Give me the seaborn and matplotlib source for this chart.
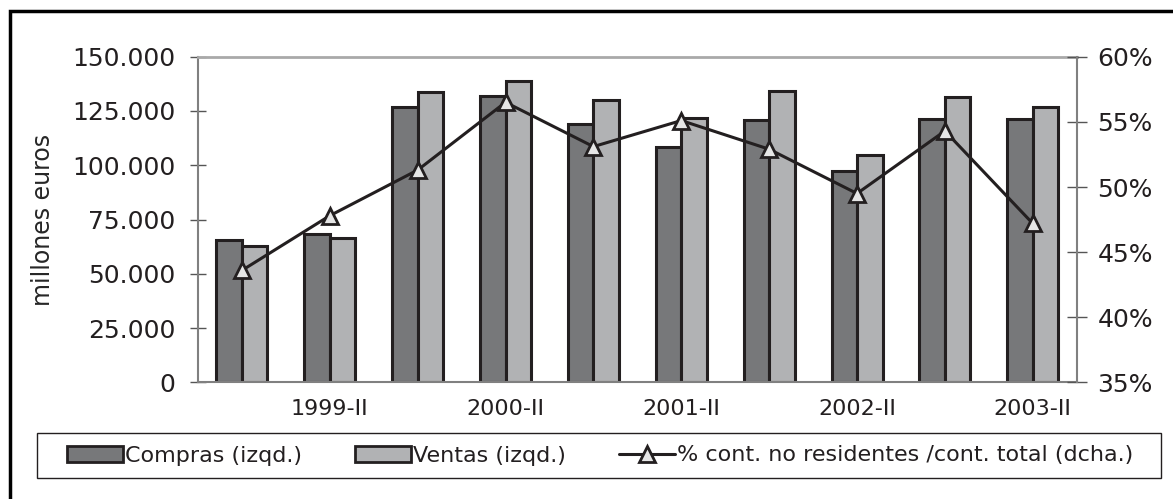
import numpy as np
import pandas as pd
import seaborn as sns
import matplotlib.pyplot as plt
from matplotlib.patches import Patch, Rectangle
from matplotlib.ticker import FuncFormatter

sns.set_style("white")
plt.rcParams['font.family'] = ['DejaVu Sans']
plt.rcParams['text.color'] = '#231f20'

# Data
periodos = ['1999-I', '1999-II', '2000-I', '2000-II', '2001-I',
            '2001-II', '2002-I', '2002-II', '2003-I', '2003-II']
compras = [65600, 68400, 127000, 131900, 119000, 108600, 120900, 97500, 121500, 121500]
ventas = [62900, 66400, 133600, 139000, 130100, 121600, 134400, 104900, 131600, 127000]
pct_no_residentes = [43.6, 47.8, 51.3, 56.5, 53.1, 55.1, 52.9, 49.5, 54.3, 47.2]
series = ['Compras (izqd.)', 'Ventas (izqd.)']
linea_label = '% cont. no residentes /cont. total (dcha.)'
ticks_izq = [0, 25000, 50000, 75000, 100000, 125000, 150000]
ticks_dcha = [35, 40, 45, 50, 55, 60]

df = pd.DataFrame({
    'periodo': periodos * 2,
    'valor': compras + ventas,
    'serie': [series[0]] * len(periodos) + [series[1]] * len(periodos),
})

oscuro = '#77787a'
claro = '#b1b2b4'
borde = '#231f20'
gris_eje = '#808080'

fig = plt.figure(figsize=(11.73, 4.99), dpi=100)
ax = fig.add_axes([0.1688, 0.2335, 0.7491, 0.6529])

sns.barplot(data=df, x='periodo', y='valor', hue='serie', palette=[oscuro, claro],
            width=0.58, saturation=1, edgecolor=borde, linewidth=2.2,
            legend=False, ax=ax)
ax.set_xlim(-0.5, len(periodos) - 0.5)
ax.set_ylim(ticks_izq[0], ticks_izq[-1])
ax.set_yticks(ticks_izq)
ax.yaxis.set_major_formatter(FuncFormatter(lambda v, _: f'{v:,.0f}'.replace(',', '.')))
ax.set_xlabel('')
ax.set_ylabel('millones euros', fontsize=17)
ax.yaxis.set_label_coords(-0.163, 0.5)

# x ticks: labels every second period, tick marks between categories
pos = np.arange(len(periodos))
ax.set_xticks(pos[1::2])
ax.set_xticklabels(periodos[1::2])
ax.set_xticks(pos[:-1] + 0.5, minor=True)
ax.tick_params(axis='x', which='major', length=0, pad=12, labelsize=16, labelcolor=borde)
ax.tick_params(axis='x', which='minor', length=11, direction='inout', width=1, color='#555555')
ax.tick_params(axis='y', length=11, direction='inout', width=1, color='#555555',
               pad=11, labelsize=18, labelcolor=borde)

for s in ['left', 'bottom']:
    ax.spines[s].set_color(gris_eje)
    ax.spines[s].set_linewidth(1.5)
ax.spines['top'].set_color('#a9a9a9')
ax.spines['top'].set_linewidth(2)
ax.spines['right'].set_visible(False)

# right axis: percentage line
ax2 = ax.twinx()
sns.lineplot(x=pos, y=pct_no_residentes, ax=ax2, color=borde, linewidth=2.2,
             marker='^', markersize=11, markerfacecolor='#e6e6e6',
             markeredgecolor=borde, markeredgewidth=2)
ax2.set_ylim(ticks_dcha[0], ticks_dcha[-1])
ax2.set_yticks(ticks_dcha)
ax2.yaxis.set_major_formatter(FuncFormatter(lambda v, _: f'{v:.0f}%'))
ax2.tick_params(axis='y', length=14, direction='inout', width=1, color='#555555',
                pad=8, labelsize=18, labelcolor=borde)
for s in ['top', 'left', 'bottom']:
    ax2.spines[s].set_visible(False)
ax2.spines['right'].set_color(gris_eje)
ax2.spines['right'].set_linewidth(1.5)

# legend with its own box
handles = [Patch(facecolor=oscuro, edgecolor=borde, linewidth=2),
           Patch(facecolor=claro, edgecolor=borde, linewidth=2),
           ax2.get_lines()[0]]
fig.legend(handles, series + [linea_label], loc='center left',
           bbox_to_anchor=(67 / 1173, 1 - 455.5 / 499), ncol=3, frameon=False,
           fontsize=16, handlelength=2.5, handleheight=0.72, handletextpad=0.1,
           columnspacing=2.4, borderpad=0, borderaxespad=0)
fig.add_artist(Rectangle((37 / 1173, 1 - 478 / 499), 1124 / 1173, 45 / 499,
                         transform=fig.transFigure, fill=False, ec=borde, lw=1))

# outer frame (cropped on right and bottom)
fig.add_artist(Rectangle((10 / 1173, -0.2), 1.2, 1.2 - 11 / 499,
                         transform=fig.transFigure, fill=False, ec='black', lw=2.5))

fig.savefig('out.png', dpi=100)
